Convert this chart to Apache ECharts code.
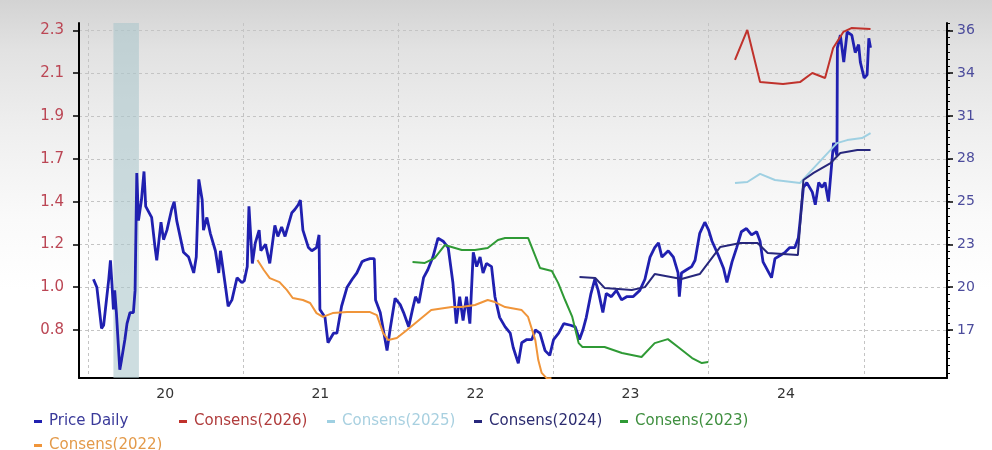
<!DOCTYPE html>
<html><head><meta charset="utf-8">
<script src="https://cdn.jsdelivr.net/npm/echarts@6/dist/echarts.min.js"></script>
<style>
html,body{margin:0;padding:0;background:#fff;}
#c{width:992px;height:450px;background:linear-gradient(to bottom,#d3d3d3 0px,#e2e2e2 50px,#efefef 130px,#fafafa 220px,#ffffff 290px);}
</style></head><body><div id="c"></div>
<script>
// ---- axes ----
const xMin = '2019-12-11', xMax = '2025-07-15';
const yearStarts = ['2020-01-01','2021-01-01','2022-01-01','2023-01-01','2024-01-01','2025-01-01'];
const yearLabelDates = ['2020-07-01','2021-07-01','2022-07-01','2023-07-01','2024-07-01'];
const leftMin = 0.5618, leftMax = 2.3243;
const leftTicks = [0.8, 1.0125, 1.225, 1.4375, 1.65, 1.8625, 2.075, 2.2875];
const rightMin = 14.273, rightMax = 36.667;
const rightTicks = [17.3, 20, 22.7, 25.4, 28.1, 30.8, 33.5, 36.2];
const recession = ['2020-03-01', '2020-04-30'];

// ---- series (Price on right axis, consensus EPS on left axis) ----
const priceDaily = [
['2020-01-14',20.5],['2020-01-22',20.0],['2020-02-02',17.4],['2020-02-07',17.6],['2020-02-19',20.5],['2020-02-23',21.7],['2020-02-27',20.0],['2020-03-01',18.6],['2020-03-04',19.8],['2020-03-08',18.4],['2020-03-16',14.8],['2020-03-20',15.4],['2020-03-28',16.7],['2020-04-02',17.7],['2020-04-09',18.4],['2020-04-17',18.4],['2020-04-21',19.8],['2020-04-25',27.2],['2020-04-29',24.2],['2020-05-06',25.5],['2020-05-12',27.3],['2020-05-16',25.1],['2020-05-30',24.4],['2020-06-07',22.5],['2020-06-11',21.7],['2020-06-21',24.1],['2020-06-27',23.0],['2020-07-05',23.6],['2020-07-16',24.9],['2020-07-22',25.4],['2020-07-28',24.2],['2020-08-13',22.2],['2020-08-25',21.9],['2020-09-06',20.9],['2020-09-12',21.9],['2020-09-18',26.8],['2020-09-26',25.5],['2020-09-29',23.6],['2020-10-07',24.4],['2020-10-15',23.4],['2020-10-27',22.3],['2020-11-04',20.9],['2020-11-08',22.3],['2020-11-20',20.0],['2020-11-26',18.8],['2020-12-05',19.2],['2020-12-17',20.6],['2020-12-28',20.3],
['2021-01-03',20.4],['2021-01-10',21.3],['2021-01-14',25.1],['2021-01-22',21.5],['2021-01-29',22.8],['2021-02-07',23.6],['2021-02-11',22.3],['2021-02-22',22.7],['2021-03-04',21.5],['2021-03-16',23.9],['2021-03-23',23.2],['2021-04-01',23.8],['2021-04-09',23.2],['2021-04-25',24.7],['2021-05-02',24.9],['2021-05-10',25.2],['2021-05-15',25.5],['2021-05-21',23.6],['2021-06-03',22.5],['2021-06-11',22.3],['2021-06-22',22.5],['2021-06-28',23.3],['2021-06-30',18.6],['2021-07-12',18.1],['2021-07-19',16.5],['2021-08-01',17.1],['2021-08-09',17.1],['2021-08-20',18.8],['2021-09-02',20.0],['2021-09-14',20.5],['2021-09-25',20.9],['2021-10-07',21.6],['2021-10-14',21.7],['2021-10-26',21.8],['2021-11-05',21.8],['2021-11-08',19.2],['2021-11-19',18.4],['2021-12-05',16.0],['2021-12-12',17.3],['2021-12-24',19.3],
['2022-01-05',18.9],['2022-01-13',18.4],['2022-01-25',17.5],['2022-02-03',18.6],['2022-02-10',19.4],['2022-02-18',19.0],['2022-03-01',20.6],['2022-03-11',21.1],['2022-03-23',21.9],['2022-04-04',23.1],['2022-04-16',22.9],['2022-04-28',22.5],['2022-05-09',20.3],['2022-05-17',17.7],['2022-05-25',19.4],['2022-06-02',17.9],['2022-06-10',19.4],['2022-06-18',17.7],['2022-06-26',22.2],['2022-07-04',21.3],['2022-07-12',21.9],['2022-07-19',20.9],['2022-07-27',21.5],['2022-08-08',21.3],['2022-08-16',19.4],['2022-08-27',18.1],['2022-09-09',17.5],['2022-09-21',17.1],['2022-09-28',16.2],['2022-10-10',15.2],['2022-10-18',16.5],['2022-10-30',16.7],['2022-11-11',16.7],['2022-11-19',17.3],['2022-11-30',17.1],['2022-12-12',16.0],['2022-12-23',15.7],
['2023-01-01',16.7],['2023-01-13',17.1],['2023-01-25',17.7],['2023-02-10',17.6],['2023-02-21',17.5],['2023-03-03',16.7],['2023-03-11',17.3],['2023-03-19',18.1],['2023-03-30',19.6],['2023-04-08',20.5],['2023-04-16',19.8],['2023-04-27',18.4],['2023-05-05',19.6],['2023-05-17',19.4],['2023-05-29',19.8],['2023-06-10',19.2],['2023-06-22',19.4],['2023-07-07',19.4],['2023-07-23',19.8],['2023-08-04',20.5],['2023-08-16',21.9],['2023-08-27',22.5],['2023-09-05',22.8],['2023-09-13',21.9],['2023-09-28',22.3],['2023-10-10',21.9],['2023-10-21',20.9],['2023-10-24',19.4],['2023-10-29',20.9],['2023-11-10',21.1],['2023-11-22',21.3],['2023-11-30',21.7],['2023-12-11',23.4],['2023-12-23',24.1],
['2024-01-01',23.6],['2024-01-09',22.9],['2024-01-24',22.0],['2024-02-05',21.2],['2024-02-13',20.3],['2024-02-25',21.6],['2024-03-07',22.5],['2024-03-18',23.5],['2024-03-30',23.7],['2024-04-11',23.3],['2024-04-23',23.5],['2024-05-01',22.9],['2024-05-08',21.6],['2024-05-20',21.0],['2024-05-28',20.6],['2024-06-05',21.8],['2024-06-17',22.0],['2024-06-29',22.2],['2024-07-10',22.5],['2024-07-22',22.5],['2024-07-30',23.1],['2024-08-03',24.1],['2024-08-11',26.3],['2024-08-19',26.6],['2024-09-01',26.0],['2024-09-08',25.2],['2024-09-16',26.6],['2024-09-24',26.3],['2024-10-01',26.6],['2024-10-09',25.4],['2024-10-17',27.9],['2024-10-21',29.1],['2024-10-25',29.0],['2024-10-29',28.3],['2024-10-30',35.1],['2024-11-06',35.9],['2024-11-14',34.2],['2024-11-22',36.1],['2024-12-03',35.9],['2024-12-11',34.8],['2024-12-19',35.3],['2024-12-23',34.2],
['2025-01-01',33.2],['2025-01-08',33.4],['2025-01-12',35.7],['2025-01-16',35.1]
];
const cons2026 = [['2024-03-03',2.141],['2024-04-01',2.290],['2024-05-01',2.031],['2024-06-24',2.022],['2024-08-03',2.031],['2024-09-01',2.076],['2024-10-01',2.051],['2024-10-20',2.200],['2024-11-13',2.280],['2024-12-02',2.299],['2025-01-16',2.295]];
const cons2025 = [['2024-03-03',1.530],['2024-04-01',1.535],['2024-05-01',1.575],['2024-06-05',1.545],['2024-08-03',1.530],['2024-09-04',1.604],['2024-10-29',1.728],['2024-11-22',1.743],['2024-12-27',1.753],['2025-01-16',1.778]];
const cons2024 = [['2023-03-03',1.063],['2023-04-09',1.058],['2023-05-01',1.009],['2023-07-04',0.999],['2023-08-04',1.013],['2023-08-27',1.078],['2023-10-29',1.053],['2023-12-11',1.078],['2024-01-28',1.212],['2024-03-16',1.232],['2024-04-25',1.232],['2024-05-19',1.182],['2024-07-29',1.172],['2024-08-11',1.545],['2024-09-04',1.580],['2024-10-14',1.629],['2024-11-06',1.679],['2024-12-16',1.694],['2025-01-16',1.694]];
const cons2023 = [['2022-02-03',1.138],['2022-03-04',1.133],['2022-03-27',1.157],['2022-04-20',1.222],['2022-05-06',1.212],['2022-05-30',1.197],['2022-06-30',1.197],['2022-07-30',1.207],['2022-08-23',1.247],['2022-09-09',1.257],['2022-11-02',1.257],['2022-11-30',1.108],['2022-12-28',1.093],['2023-01-12',1.033],['2023-01-28',0.949],['2023-02-14',0.865],['2023-03-01',0.735],['2023-03-10',0.716],['2023-05-01',0.716],['2023-06-11',0.686],['2023-07-27',0.666],['2023-08-27',0.735],['2023-09-27',0.755],['2023-10-21',0.716],['2023-11-23',0.661],['2023-12-16',0.636],['2023-12-31',0.641]];
const cons2022 = [['2021-02-03',1.148],['2021-02-18',1.098],['2021-03-04',1.058],['2021-03-27',1.038],['2021-04-13',0.999],['2021-04-27',0.959],['2021-05-21',0.949],['2021-06-07',0.934],['2021-06-22',0.884],['2021-07-07',0.865],['2021-07-30',0.884],['2021-09-02',0.889],['2021-10-26',0.889],['2021-11-11',0.874],['2021-11-26',0.785],['2021-12-08',0.750],['2021-12-28',0.760],['2022-01-21',0.800],['2022-02-10',0.835],['2022-03-19',0.899],['2022-05-06',0.914],['2022-05-29',0.914],['2022-06-30',0.924],['2022-07-30',0.949],['2022-08-16',0.939],['2022-09-09',0.914],['2022-10-18',0.899],['2022-11-02',0.865],['2022-11-19',0.750],['2022-11-26',0.651],['2022-12-04',0.587],['2022-12-16',0.56],['2022-12-27',0.56]];

const seriesNames = ['Price Daily','Consens(2026)','Consens(2025)','Consens(2024)','Consens(2023)','Consens(2022)'];
const seriesColors = ['#2020b0','#c0322c','#9fd0e2','#27277c','#2f9a35','#f0953a'];
const legendTextColors = ['#3a3a9a','#b03c3c','#a8d0e0','#2c2c70','#3f8f3f','#e39a4a'];

const ts = d => Date.parse(d + 'T00:00:00Z');
const toPts = arr => arr.map(p => [ts(p[0]), p[1]]);

// minor tick positions on the right axis (6 subdivisions per labelled step)
const minorTicks = [];
for (let v = rightTicks[0] - 2.7; v <= rightMax; v += 0.45) { if (v >= rightMin) minorTicks.push(+v.toFixed(3)); }

const FONT = 'DejaVu Sans';
const chart = echarts.init(document.getElementById('c'), null, {renderer: 'canvas'});
const dataSets = [priceDaily, cons2026, cons2025, cons2024, cons2023, cons2022];

const legendPos = [[34,414],[179,414],[327,414],[474,414],[620,414],[34,438]];
const legends = seriesNames.map((n, i) => ({
  data: [n], left: legendPos[i][0], top: legendPos[i][1], padding: 0,
  icon: 'rect', itemWidth: 8, itemHeight: 3, itemGap: 0,
  textStyle: {color: legendTextColors[i], fontSize: 15, fontFamily: FONT, padding: [0,0,0,2]}
}));

const series = seriesNames.map((n, i) => {
  const s = {
    name: n, type: 'line', data: toPts(dataSets[i]), yAxisIndex: i === 0 ? 1 : 0,
    showSymbol: false, symbol: 'none', clip: true,
    lineStyle: {color: seriesColors[i], width: i === 0 ? 2.8 : 2},
    itemStyle: {color: seriesColors[i]}, z: i === 0 ? 2 : 3
  };
  if (i === 0) {
    s.markArea = {silent: true, itemStyle: {color: 'rgba(172,198,204,0.6)'},
      data: [[{xAxis: ts(recession[0])}, {xAxis: ts(recession[1])}]]};
  }
  return s;
});

chart.setOption({
  animation: false,
  grid: {left: 79, right: 45, top: 23, bottom: 72},
  legend: legends,
  xAxis: {
    type: 'value', min: ts(xMin), max: ts(xMax),
    axisLine: {show: true, onZero: false, lineStyle: {color: '#000', width: 2}},
    axisTick: {show: false, customValues: yearStarts.map(ts)},
    axisLabel: {customValues: yearLabelDates.map(ts), color: '#333', fontSize: 14, fontFamily: FONT, margin: 9,
      formatter: v => String(new Date(v).getUTCFullYear() % 100)},
    splitLine: {show: true, lineStyle: {color: '#c4c4c4', type: [3,3], width: 1}}
  },
  yAxis: [
    {type: 'value', position: 'left', min: leftMin, max: leftMax,
     axisLine: {show: true, onZero: false, lineStyle: {color: '#000', width: 2}},
     axisTick: {show: true, length: 6, customValues: leftTicks, lineStyle: {color: '#000', width: 1.5}},
     axisLabel: {customValues: leftTicks, color: '#bb4654', fontSize: 15, fontFamily: FONT, margin: 15,
       formatter: v => (Math.round(v * 10 + 0.001) / 10).toFixed(1)},
     splitLine: {show: true, lineStyle: {color: '#c4c4c4', type: [3,3], width: 1}}},
    {type: 'value', position: 'right', min: rightMin, max: rightMax,
     axisLine: {show: true, onZero: false, lineStyle: {color: '#000', width: 2}},
     axisTick: {show: true, length: 6, customValues: rightTicks, lineStyle: {color: '#000', width: 1.5}},
     axisLabel: {customValues: rightTicks, color: '#4c4c9c', fontSize: 14, fontFamily: FONT, margin: 10,
       formatter: v => String(Math.round(v + 1e-6))},
     splitLine: {show: false}},
    {type: 'value', position: 'right', min: rightMin, max: rightMax,
     axisLine: {show: false},
     axisTick: {show: true, length: 3, customValues: minorTicks, lineStyle: {color: '#000', width: 1}},
     axisLabel: {show: false}, splitLine: {show: false}}
  ],
  series: series
});
</script></body></html>
